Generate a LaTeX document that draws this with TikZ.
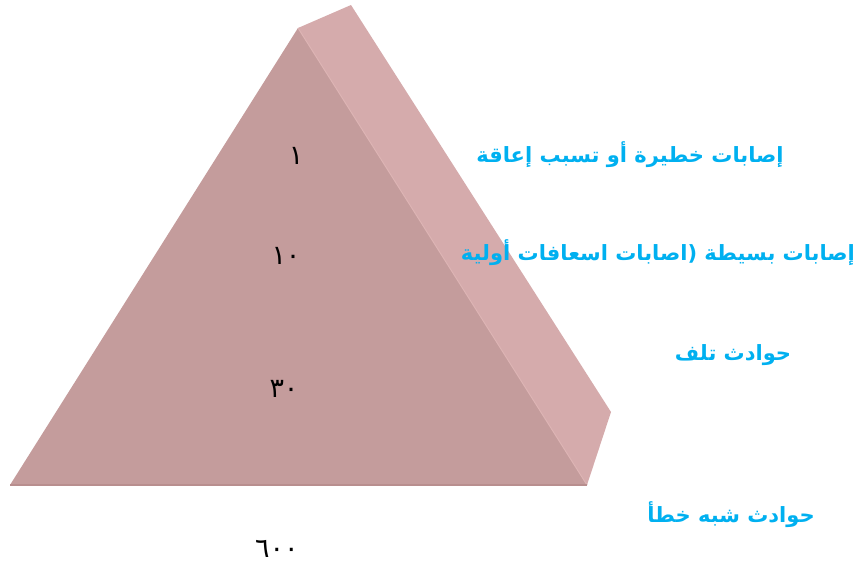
\documentclass[tikz,border=0pt]{standalone}
\usepackage{fontspec}
\TeXXeTstate=1
\newfontfamily\arabicfont[Script=Arabic]{DejaVu Sans}
\definecolor{frontc}{HTML}{C49C9C}
\definecolor{sidec}{HTML}{D5ABAC}
\definecolor{edgec}{HTML}{B88E8E}
\definecolor{ridgec}{HTML}{DDB4B4}
\definecolor{lblc}{HTML}{00B0F0}
\tikzset{
  lbl/.style={text=lblc, font=\arabicfont\bfseries\fontsize{21}{24}\selectfont, inner sep=0pt},
  num/.style={text=black, font=\arabicfont\fontsize{27}{30}\selectfont, inner sep=0pt}
}
\begin{document}
\begin{tikzpicture}[x=1pt,y=-1pt]
\useasboundingbox (0,0) rectangle (860,565);
\coordinate (apex) at (298,28);
\coordinate (bl) at (10,485);
\coordinate (br) at (587,485);
\coordinate (btop) at (351,5);
\coordinate (bright) at (611,412);
% side face
\fill[sidec] (apex) -- (btop) -- (bright) -- (br) -- cycle;
% front face
\fill[frontc] (apex) -- (bl) -- (br) -- cycle;
\draw[ridgec, line width=1pt] (apex) -- (br);
\draw[edgec, line width=2pt] (bl) -- (br);
% numbers
\node[num] (n1) at (296,156) {١};
\node[num] (n10) at (286,256) {١٠};
\node[num] (n30) at (284,389) {٣٠};
\node[num] (n600) at (277,549) {٦٠٠};
% labels
\node[lbl] (l1) at (630,155) {\beginR إصابات خطيرة أو تسبب إعاقة\endR};
\node[lbl] (l2) at (658,253) {\beginR إصابات بسيطة (اصابات اسعافات أولية\endR};
\node[lbl] (l3) at (733,355) {\beginR حوادث تلف\endR};
\node[lbl] (l4) at (731,515) {\beginR حوادث شبه خطأ\endR};
\end{tikzpicture}
\end{document}
